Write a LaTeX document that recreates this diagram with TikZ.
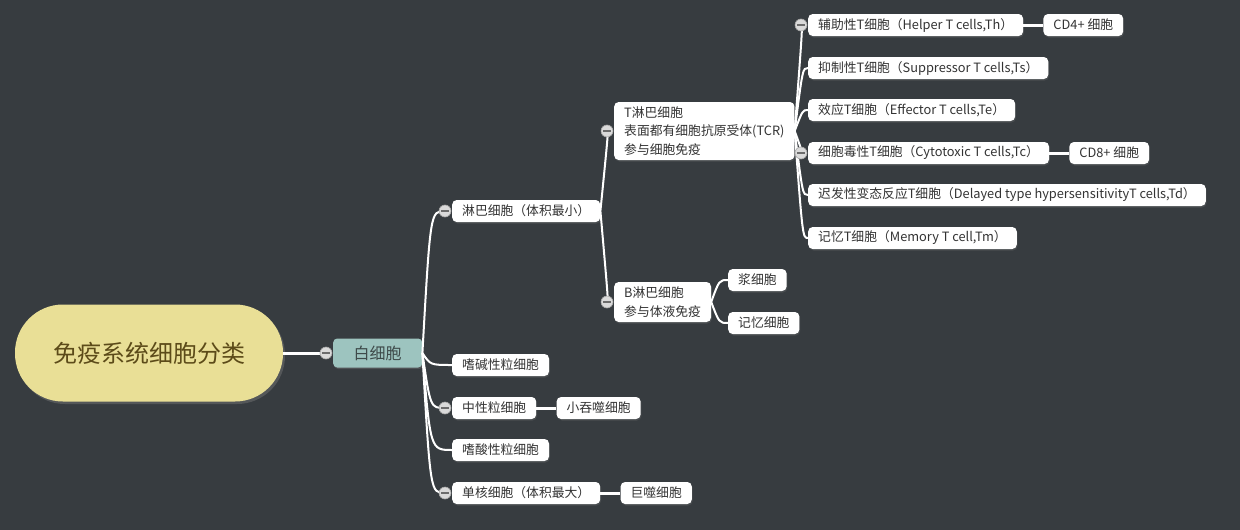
\documentclass[tikz,border=0pt]{standalone}
\usepackage{fontspec}
\setmainfont{Noto Sans CJK SC}
\usetikzlibrary{positioning,shadows,calc}
\definecolor{bgcol}{HTML}{373C40}
\definecolor{rootfill}{HTML}{E9DF96}
\definecolor{roottext}{HTML}{5C4B19}
\definecolor{wbcfill}{HTML}{9DC4BF}
\definecolor{wbctext}{HTML}{3E4A4A}
\definecolor{leaftext}{HTML}{333333}
\definecolor{foldfill}{HTML}{DADADA}

\tikzset{
  leaf/.style={fill=white, rounded corners=4.5pt, text=leaftext, anchor=west,
    font=\fontsize{12.8}{18.5}\selectfont, inner xsep=10pt, inner ysep=0pt,
    minimum height=22pt, align=left,
    drop shadow={shadow xshift=.8pt, shadow yshift=-1.5pt, opacity=.25}},
  fold/.style={circle, fill=foldfill, draw=gray!70, line width=.6pt,
    minimum size=12pt, inner sep=0pt,
    path picture={\draw[gray!85!black, line width=1.3pt]
      ([xshift=-4pt]path picture bounding box.center) --
      ([xshift=4pt]path picture bounding box.center);}},
  link/.style={draw=white, line width=2pt},
  branch/.style={link, to path={.. controls ([xshift=8pt]\tikztostart |- \tikztotarget) .. (\tikztotarget)}},
}

\begin{document}
\begin{tikzpicture}[x=1pt, y=-1pt]
  %% background
  \fill[bgcol] (0,0) rectangle (1240,530);
  \useasboundingbox (0,0) rectangle (1240,530);

  %% central topic
  \node[fill=rootfill, rounded corners=48pt, minimum width=268pt, minimum height=97pt,
        text=roottext, font=\fontsize{24}{28}\selectfont,
        drop shadow={shadow xshift=2pt, shadow yshift=-2.5pt, opacity=.4}]
        (root) at (149,353) {免疫系统细胞分类};

  %% main branch
  \node[fill=wbcfill, rounded corners=4pt, minimum width=89pt, minimum height=29pt,
        text=wbctext, font=\fontsize{16}{19}\selectfont, anchor=west,
        drop shadow={shadow xshift=1pt, shadow yshift=-1.5pt, opacity=.35}]
        (wbc) at (333,353) {白细胞};

  %% white blood cell types
  \node[leaf] (lym)  at (452,211) {淋巴细胞（体积最小）};
  \node[leaf] (baso) at (452,365) {嗜碱性粒细胞};
  \node[leaf] (neut) at (452,408) {中性粒细胞};
  \node[leaf] (eos)  at (452,450) {嗜酸性粒细胞};
  \node[leaf] (mono) at (452,493) {单核细胞（体积最大）};
  \node[leaf, right=20pt of neut] (microph) {小吞噬细胞};
  \node[leaf, right=20pt of mono] (macroph) {巨噬细胞};

  %% lymphocytes
  \node[leaf, minimum height=58pt] (tcell) at (614,131)
    {T淋巴细胞\\表面都有细胞抗原受体(TCR)\\参与细胞免疫};
  \node[leaf, minimum height=40pt] (bcell) at (614,302)
    {B淋巴细胞\\参与体液免疫};
  \node[leaf] (plasma) at (728,280) {浆细胞};
  \node[leaf] (bmem)   at (728,323) {记忆细胞};

  %% T cell subsets
  \node[leaf] (th) at (808,25)  {辅助性T细胞（Helper T cells,Th）};
  \node[leaf] (ts) at (808,68)  {抑制性T细胞（Suppressor T cells,Ts）};
  \node[leaf] (te) at (808,110) {效应T细胞（Effector T cells,Te）};
  \node[leaf] (tc) at (808,153) {细胞毒性T细胞（Cytotoxic T cells,Tc）};
  \node[leaf] (td) at (808,195) {迟发性变态反应T细胞（Delayed type hypersensitivityT cells,Td）};
  \node[leaf] (tm) at (808,238) {记忆T细胞（Memory T cell,Tm）};
  \node[leaf, right=20pt of th] (cd4) {CD4+ 细胞};
  \node[leaf, right=20pt of tc] (cd8) {CD8+ 细胞};

  %% collapse markers
  \foreach \n in {wbc,lym,neut,mono,tcell,bcell,th,tc}
    \coordinate (\n-f) at ([xshift=-7pt]\n.west);

  %% connectors
  \draw[link, line width=3pt] (root.east) -- (wbc-f);
  \foreach \n in {lym-f,baso.west,neut-f,eos.west,mono-f}
    \draw[branch] (wbc.east) to (\n);
  \foreach \n in {tcell-f,bcell-f}
    \draw[branch] (lym.east) to (\n);
  \foreach \n in {th-f,ts.west,te.west,tc-f,td.west,tm.west}
    \draw[branch] (tcell.east) to (\n);
  \foreach \n in {plasma.west,bmem.west}
    \draw[branch] (bcell.east) to (\n);
  \draw[link, line width=3pt] (th) -- (cd4);
  \draw[link, line width=3pt] (tc) -- (cd8);
  \draw[link, line width=3pt] (neut) -- (microph);
  \draw[link, line width=3pt] (mono) -- (macroph);

  \foreach \n in {wbc,lym,neut,mono,tcell,bcell,th,tc}
    \node[fold] at (\n-f) {};
\end{tikzpicture}
\end{document}
